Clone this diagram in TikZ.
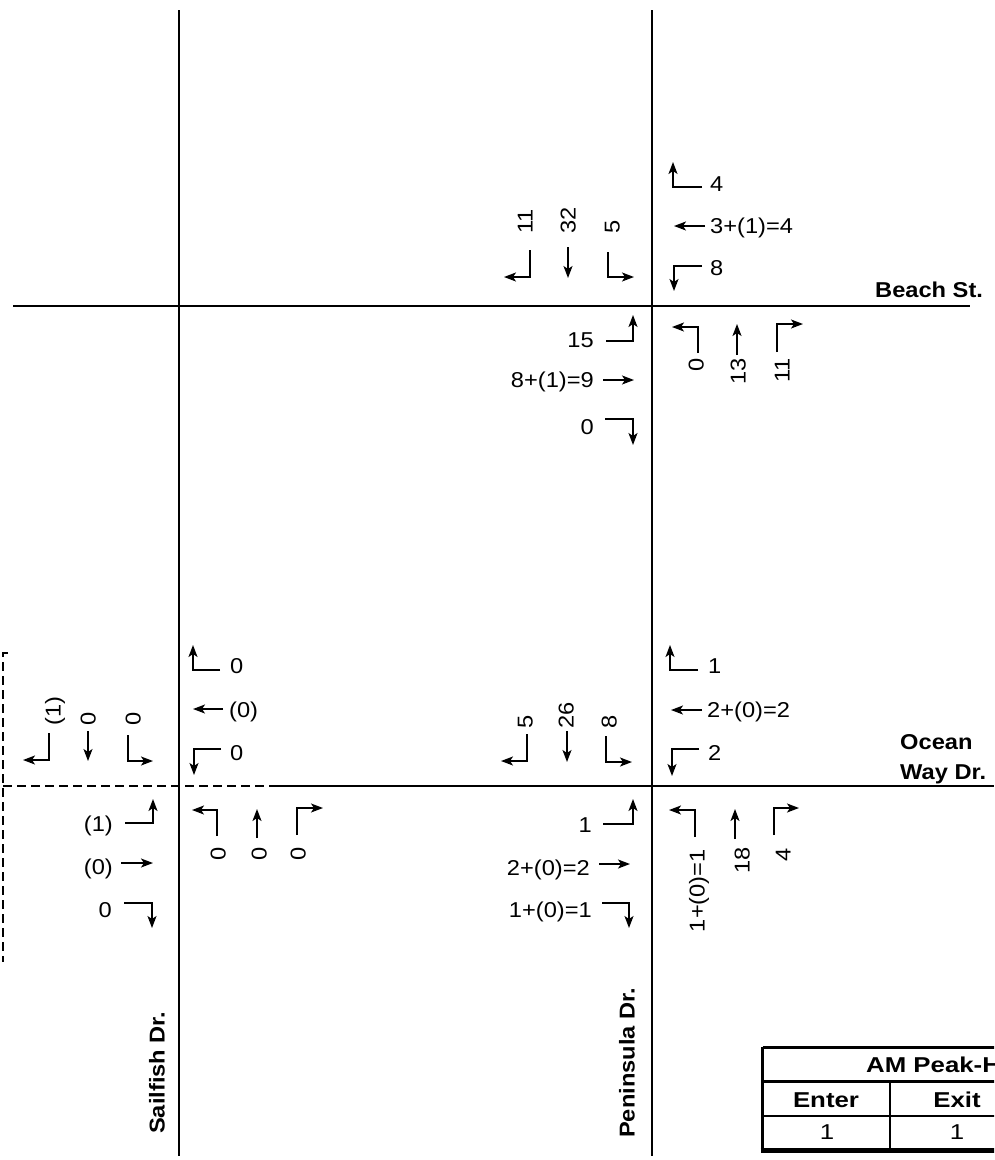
\documentclass[tikz,border=0pt]{standalone}
\usepackage{fontspec}
\setmainfont{Liberation Sans}[FakeStretch=1.1]
\newfontfamily\tblfont{Liberation Sans}[FakeStretch=1.2]
\usetikzlibrary{arrows.meta}
\tikzset{
 road/.style={line width=2.2pt},
 mv/.style={line width=1.7pt, -{Stealth[length=12pt,width=9pt,inset=3pt]}},
 lbl/.style={inner sep=0pt, font=\fontsize{21.5}{26}\selectfont, text height=15.4pt, text depth=0pt},
 rlbl/.style={lbl, rotate=90},
 rname/.style={lbl, rotate=90, font=\bfseries\fontsize{21.5}{26}\selectfont},
 sname/.style={lbl, font=\bfseries\fontsize{21.5}{26}\selectfont},
 tname/.style={lbl, font=\tblfont\bfseries\fontsize{21.5}{26}\selectfont},
 tval/.style={lbl, font=\tblfont\fontsize{21.5}{26}\selectfont},
 dsh/.style={line width=1.8pt, dash pattern=on 9pt off 5pt},
 tbl/.style={line width=2.7pt},
}
\begin{document}
\begin{tikzpicture}[x=1pt,y=-1pt]
\clip (0,0) rectangle (994,1160);
% roads
\draw[road] (179,10) -- (179,1156);
\draw[road] (652,10) -- (652,1156);
\draw[road] (13,306) -- (970,306);
\draw[dsh] (3,786) -- (273,786);
\draw[road] (273,786) -- (994,786);
\draw[dsh] (8,653) -- (3,653) -- (3,962);

% ===== Beach St / Peninsula Dr =====
% westbound
\draw[mv] (702,187) -- (673,187) -- (673,162);
\node[lbl,anchor=west] (b1) at (710,184) {4};
\draw[mv] (705,226) -- (674,226);
\node[lbl,anchor=west] (b2) at (710,226) {3+(1)=4};
\draw[mv] (702,266) -- (674,266) -- (674,291);
\node[lbl,anchor=west] (b3) at (710,268) {8};
% southbound
\node[rlbl,anchor=west] (b4) at (525,234) {11};
\node[rlbl,anchor=west] (b5) at (568,234) {32};
\node[rlbl,anchor=west] (b6) at (612,234) {5};
\draw[mv] (530,250) -- (530,277) -- (504,277);
\draw[mv] (568,247) -- (568,278);
\draw[mv] (608,252) -- (608,277) -- (634,277);
% eastbound
\node[lbl,anchor=east] (b7) at (594,340) {15};
\draw[mv] (606,341) -- (633,341) -- (633,315);
\node[lbl,anchor=east] (b8) at (594,380) {8+(1)=9};
\draw[mv] (603,380) -- (634,380);
\node[lbl,anchor=east] (b9) at (594,427) {0};
\draw[mv] (605,419) -- (633,419) -- (633,445);
% northbound
\draw[mv] (698,353) -- (698,327) -- (672,327);
\node[rlbl,anchor=east] (b10) at (696,358) {0};
\draw[mv] (737,355) -- (737,324);
\node[rlbl,anchor=east] (b11) at (738,358) {13};
\draw[mv] (777,352) -- (777,324) -- (803,324);
\node[rlbl,anchor=east] (b12) at (782,358) {11};

% ===== Ocean Way Dr / Peninsula Dr =====
\draw[mv] (698,670) -- (670,670) -- (670,645);
\node[lbl,anchor=west] (o1) at (708,666) {1};
\draw[mv] (702,710) -- (671,710);
\node[lbl,anchor=west] (o2) at (707,710) {2+(0)=2};
\draw[mv] (699,749) -- (672,749) -- (672,776);
\node[lbl,anchor=west] (o3) at (708,753) {2};
\node[rlbl,anchor=west] (o4) at (525,729) {5};
\node[rlbl,anchor=west] (o5) at (566,729) {26};
\node[rlbl,anchor=west] (o6) at (609,729) {8};
\draw[mv] (527,734) -- (527,761) -- (501,761);
\draw[mv] (567,731) -- (567,762);
\draw[mv] (606,736) -- (606,762) -- (632,762);
\node[lbl,anchor=east] (o7) at (592,825) {1};
\draw[mv] (603,824) -- (633,824) -- (633,799);
\node[lbl,anchor=east] (o8) at (590,868) {2+(0)=2};
\draw[mv] (599,864) -- (630,864);
\node[lbl,anchor=east] (o9) at (592,910) {1+(0)=1};
\draw[mv] (602,903) -- (629,903) -- (629,928);
\draw[mv] (695,837) -- (695,810) -- (669,810);
\node[rlbl,anchor=east] (o10) at (697,849) {1+(0)=1};
\draw[mv] (735,839) -- (735,809);
\node[rlbl,anchor=east] (o11) at (742,847) {18};
\draw[mv] (774,835) -- (774,808) -- (799,808);
\node[rlbl,anchor=east] (o12) at (783,848) {4};

% ===== Ocean Way Dr / Sailfish Dr =====
\draw[mv] (220,670) -- (193,670) -- (193,645);
\node[lbl,anchor=west] (s1) at (230,666) {0};
\draw[mv] (223,709) -- (193,709);
\node[lbl,anchor=west] (s2) at (229,710) {(0)};
\draw[mv] (221,749) -- (194,749) -- (194,775);
\node[lbl,anchor=west] (s3) at (230,753) {0};
\node[rlbl,anchor=west] (s4) at (53,726) {(1)};
\node[rlbl,anchor=west] (s5) at (88,726) {0};
\node[rlbl,anchor=west] (s6) at (133,726) {0};
\draw[mv] (49,733) -- (49,760) -- (23,760);
\draw[mv] (88,731) -- (88,761);
\draw[mv] (128,735) -- (128,761) -- (153,761);
\node[lbl,anchor=east] (s7) at (113,824) {(1)};
\draw[mv] (125,823) -- (153,823) -- (153,799);
\node[lbl,anchor=east] (s8) at (113,867) {(0)};
\draw[mv] (121,863) -- (153,863);
\node[lbl,anchor=east] (s9) at (112,910) {0};
\draw[mv] (124,903) -- (152,903) -- (152,928);
\draw[mv] (217,836) -- (217,810) -- (192,810);
\draw[mv] (257,838) -- (257,809);
\draw[mv] (297,835) -- (297,808) -- (323,808);
\node[rlbl,anchor=east] (s10) at (218,847) {0};
\node[rlbl,anchor=east] (s11) at (259,847) {0};
\node[rlbl,anchor=east] (s12) at (298,847) {0};

% street names
\node[sname,anchor=west] (beach) at (875,290) {Beach St.};
\node[sname,anchor=west] (ocean1) at (900,742) {Ocean};
\node[sname,anchor=west] (ocean2) at (900,772) {Way Dr.};
\node[rname,anchor=west] (sail) at (157,1134) {Sailfish Dr.};
\node[rname,anchor=west] (pen) at (627,1138) {Peninsula Dr.};

% table
\draw[tbl] (762.5,1047.5) -- (1000,1047.5);
\draw[tbl] (762.5,1046.5) -- (762.5,1152);
\draw[tbl] (762.5,1081.5) -- (1000,1081.5);
\draw[tbl] (762.5,1116) -- (1000,1116);
\draw[line width=4.5pt] (760.5,1150.5) -- (1000,1150.5);
\draw[tbl] (890,1081.5) -- (890,1150);
\node[tname,anchor=west] (th) at (866,1065) {AM Peak-Hour};
\node[tname] (enter) at (826,1100) {Enter};
\node[tname] (exit) at (957,1100) {Exit};
\node[tval] (v1) at (827,1132) {1};
\node[tval] (v2) at (957,1132) {1};
\end{tikzpicture}
\end{document}
